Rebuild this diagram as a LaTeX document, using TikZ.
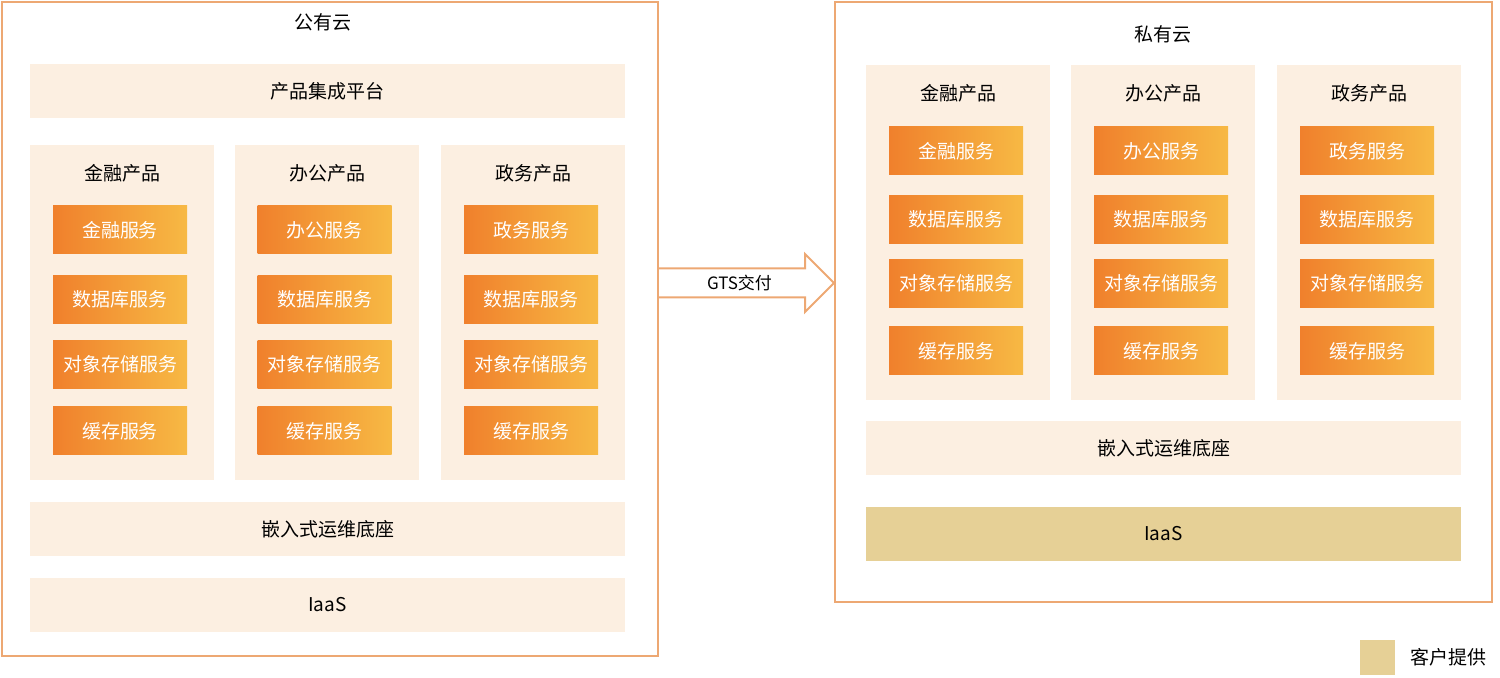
\documentclass[tikz,border=0pt]{standalone}
\usepackage{fontspec}
\setmainfont{Noto Sans CJK SC}
\usepackage{xcolor}
\usepackage{tikz}
\usetikzlibrary{positioning, calc}

\definecolor{cloudline}{RGB}{237,168,115}
\definecolor{panelfill}{RGB}{252,239,225}
\definecolor{svcleft}{RGB}{240,128,44}
\definecolor{svcright}{RGB}{247,185,68}
\definecolor{custfill}{RGB}{230,208,150}

\begin{document}
\begin{tikzpicture}[x=0.5pt,y=-0.5pt,
    font=\fontsize{9.5}{11}\selectfont,
    cloud/.style={draw=cloudline,line width=1pt,inner sep=0pt},
    panel/.style={fill=panelfill,inner sep=0pt},
    bar/.style={panel,minimum width=297.5pt,minimum height=27pt},
    column/.style={panel,minimum width=92pt,minimum height=167.5pt},
    svc/.style={left color=svcleft,right color=svcright,text=white,
                inner sep=0pt,minimum width=67pt,minimum height=24pt},
    gtsarrow/.style={draw=cloudline,line width=1pt,line join=miter}]
    \useasboundingbox (0,0) rectangle (1500,678);

    % public cloud
    \node[cloud,minimum width=328pt,minimum height=327pt] (pub) at (330,329) {};
    \node (pubT) at (323,22) {公有云};
    \node[bar] (pubplat) at (327.5,91.5) {产品集成平台};
    \node[column] (pubfin) at (122,312.5) {};
    \node[column] (puboff) at (327,312.5) {};
    \node[column] (pubgov) at (533,312.5) {};
    \node (pubfinT) at (122,173) {金融产品};
    \node (puboffT) at (327,173) {办公产品};
    \node (pubgovT) at (533,173) {政务产品};
    \node[svc] (pubfin1) at (120,230) {金融服务};
    \node[svc] (pubfin2) at (120,299.5) {数据库服务};
    \node[svc] (pubfin3) at (120,364.5) {对象存储服务};
    \node[svc] (pubfin4) at (120,431) {缓存服务};
    \node[svc] (puboff1) at (324.5,230) {办公服务};
    \node[svc] (puboff2) at (324.5,299.5) {数据库服务};
    \node[svc] (puboff3) at (324.5,364.5) {对象存储服务};
    \node[svc] (puboff4) at (324.5,431) {缓存服务};
    \node[svc] (pubgov1) at (531,230) {政务服务};
    \node[svc] (pubgov2) at (531,299.5) {数据库服务};
    \node[svc] (pubgov3) at (531,364.5) {对象存储服务};
    \node[svc] (pubgov4) at (531,431) {缓存服务};
    \node[bar] (pubops) at (327.5,529) {嵌入式运维底座};
    \node[bar] (pubiaas) at (327.5,605) {IaaS};

    % private cloud
    \node[cloud,minimum width=328.5pt,minimum height=300pt] (priv) at (1163.5,302) {};
    \node (privT) at (1163,34) {私有云};
    \node[column] (privfin) at (958,232.5) {};
    \node[column] (privoff) at (1163,232.5) {};
    \node[column] (privgov) at (1369,232.5) {};
    \node (privfinT) at (958,93) {金融产品};
    \node (privoffT) at (1163,93) {办公产品};
    \node (privgovT) at (1369,93) {政务产品};
    \node[svc] (privfin1) at (956,151) {金融服务};
    \node[svc] (privfin2) at (956,219.5) {数据库服务};
    \node[svc] (privfin3) at (956,283.5) {对象存储服务};
    \node[svc] (privfin4) at (956,351) {缓存服务};
    \node[svc] (privoff1) at (1161,151) {办公服务};
    \node[svc] (privoff2) at (1161,219.5) {数据库服务};
    \node[svc] (privoff3) at (1161,283.5) {对象存储服务};
    \node[svc] (privoff4) at (1161,351) {缓存服务};
    \node[svc] (privgov1) at (1367,151) {政务服务};
    \node[svc] (privgov2) at (1367,219.5) {数据库服务};
    \node[svc] (privgov3) at (1367,283.5) {对象存储服务};
    \node[svc] (privgov4) at (1367,351) {缓存服务};
    \node[bar] (privops) at (1163.5,448.5) {嵌入式运维底座};
    \node[bar,fill=custfill] (priviaas) at (1163.5,534) {IaaS};

    % legend
    \node[fill=custfill,inner sep=0pt,minimum size=17.5pt] (cust) at (1377.5,657.5) {};
    \node[right=4pt of cust] (custT) {客户提供};

    % GTS delivery arrow
    \coordinate (gtsmid) at (746,283);
    \path (pub.east |- gtsmid) coordinate (gA)
          (priv.west |- gtsmid) coordinate (gB);
    \draw[gtsarrow] ($(gA)+(0,-14.5)$) -- ($(gB)+(-29,-14.5)$) -- ($(gB)+(-29,-29)$)
        -- (gB) -- ($(gB)+(-29,29)$) -- ($(gB)+(-29,14.5)$) -- ($(gA)+(0,14.5)$);
    \node[font=\fontsize{8.5}{10}\selectfont] (gtsT) at ($(gA)!0.46!(gB)$) {GTS交付};
\end{tikzpicture}
\end{document}
